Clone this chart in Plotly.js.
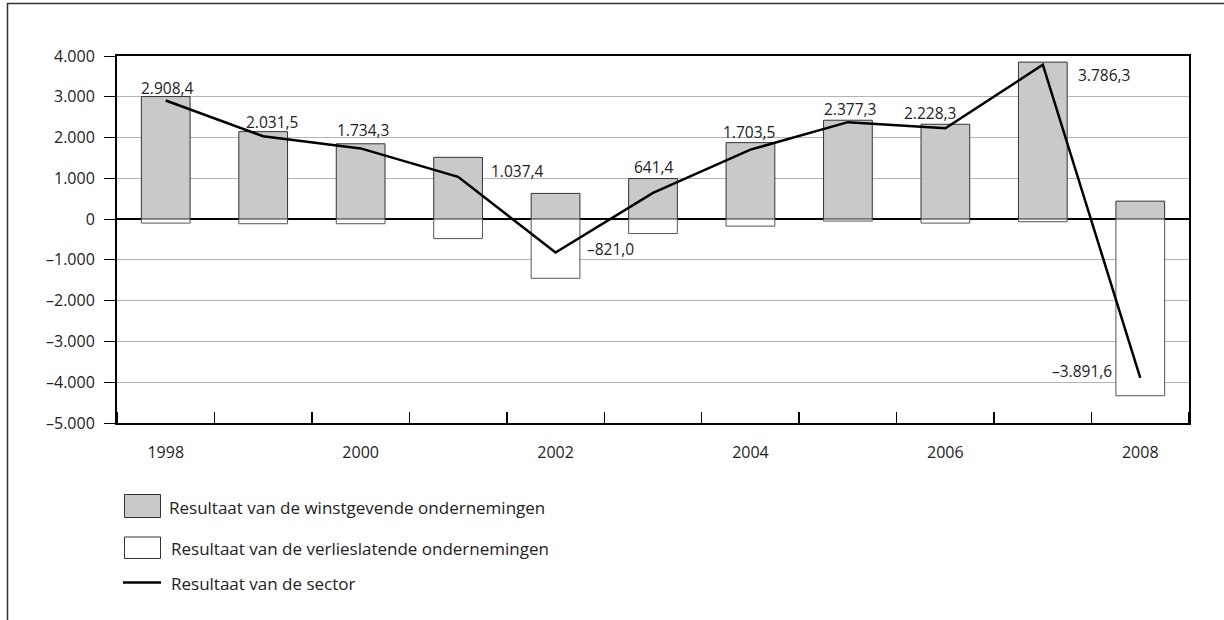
<!DOCTYPE html>
<html>
<head>
<meta charset="utf-8">
<script src="https://cdn.plot.ly/plotly-3.0.1.min.js"></script>
<style>
  html, body { margin: 0; padding: 0; background: #fff; }
  #chart { width: 1224px; height: 620px; }
</style>
</head>
<body>
<div id="chart"></div>
<script>
// ---- data ----
const years = [1998, 1999, 2000, 2001, 2002, 2003, 2004, 2005, 2006, 2007, 2008];
const winstgevend = [3005, 2145, 1847, 1515, 630, 995, 1875, 2425, 2326, 3850, 440];
const verlieslatend = [-97, -113, -113, -478, -1451, -354, -171.5, -48, -98, -64, -4332];
const sector = [2908.4, 2031.5, 1734.3, 1037.4, -821.0, 641.4, 1703.5, 2377.3, 2228.3, 3786.3, -3891.6];
const xTickVals = [1998, 2000, 2002, 2004, 2006, 2008];
const yTickVals = [-5000, -4000, -3000, -2000, -1000, 0, 1000, 2000, 3000, 4000];
const legendLabels = [
  'Resultaat van de winstgevende ondernemingen',
  'Resultaat van de verlieslatende ondernemingen',
  'Resultaat van de sector'
];

// ---- style / placement (pixel offsets of value labels from their points) ----
const labelShift = [[2,13],[9,14],[2,18],[59,6],[55,4],[1,26],[-1,18],[2,13],[-15,15],[61,-10],[-58,7]];

const FONT = 'Open Sans, Noto Sans, DejaVu Sans, sans-serif';
const TXT = '#222';
const PL = 117, PR = 1189, PT = 56, PB = 423;
const px = x => (x - PL) / (PR - PL);
const py = y => (PB - y) / (PB - PT);

function fmt(v, dec) {
  const neg = v < 0;
  const s = Math.abs(v).toFixed(dec);
  let [ip, dp] = s.split('.');
  ip = ip.replace(/\B(?=(\d{3})+(?!\d))/g, '.');
  return (neg ? '\u2013' : '') + ip + (dp ? ',' + dp : '');
}

const traces = [
  {
    type: 'bar', x: years, y: winstgevend, name: legendLabels[0],
    marker: { color: '#c8c9cb', line: { color: '#333', width: 1 } },
    hoverinfo: 'x+y'
  },
  {
    type: 'bar', x: years, y: verlieslatend, name: legendLabels[1],
    marker: { color: '#ffffff', line: { color: '#555', width: 1 } },
    hoverinfo: 'x+y'
  },
  {
    type: 'scatter', mode: 'lines', x: years, y: sector, name: legendLabels[2],
    line: { color: '#000', width: 2.5 }, hoverinfo: 'x+y'
  }
];

const annotations = years.map((yr, i) => ({
  x: yr, y: sector[i], xref: 'x', yref: 'y',
  text: fmt(sector[i], 1), showarrow: false,
  xanchor: 'center', yanchor: 'middle',
  xshift: labelShift[i][0], yshift: labelShift[i][1],
  font: { family: FONT, size: 15.5, color: TXT }
}));

// legend texts
const legTextPos = [[167, 507], [169, 548], [169, 583]];
legendLabels.forEach((t, i) => {
  annotations.push({
    x: px(legTextPos[i][0]), y: py(legTextPos[i][1]), xref: 'paper', yref: 'paper',
    text: t, showarrow: false, xanchor: 'left', yanchor: 'middle',
    font: { family: FONT, size: 17, color: TXT }
  });
});

const shapes = [
  // outer frame (top + left)
  { type: 'line', xref: 'paper', yref: 'paper', x0: px(7), x1: px(1230), y0: py(3.5), y1: py(3.5), line: { color: '#333', width: 1.5 } },
  { type: 'line', xref: 'paper', yref: 'paper', x0: px(7.5), x1: px(7.5), y0: py(3), y1: py(625), line: { color: '#333', width: 1.5 } },
  // legend swatches
  { type: 'rect', xref: 'paper', yref: 'paper', x0: px(124.5), x1: px(160.5), y0: py(494.5), y1: py(517.5), fillcolor: '#c8c9cb', line: { color: '#333', width: 1 } },
  { type: 'rect', xref: 'paper', yref: 'paper', x0: px(124.5), x1: px(160.5), y0: py(537), y1: py(558.5), fillcolor: '#ffffff', line: { color: '#333', width: 1 } },
  { type: 'line', xref: 'paper', yref: 'paper', x0: px(123), x1: px(161), y0: py(582.5), y1: py(582.5), line: { color: '#000', width: 2.5 } }
];

const layout = {
  width: 1224, height: 620,
  margin: { l: PL, r: 1224 - PR, t: PT, b: 620 - PB, pad: 0 },
  paper_bgcolor: '#fff', plot_bgcolor: '#fff',
  font: { family: FONT, size: 15, color: TXT },
  separators: ',.',
  barmode: 'relative', bargap: 0.5,
  showlegend: false,
  xaxis: {
    type: 'linear', range: [1997.5, 2008.5],
    tickvals: xTickVals, ticktext: xTickVals.map(String),
    ticks: '', showgrid: false, zeroline: false,
    showline: true, linecolor: '#000', linewidth: 2, mirror: true,
    ticklabelstandoff: 14,
    tickfont: { family: FONT, size: 16, color: TXT },
    minor: { tick0: 1997.5, dtick: 1, ticks: 'inside', ticklen: 11, tickwidth: 1.5, tickcolor: '#000', showgrid: false }
  },
  yaxis: {
    range: [-5000, 4000],
    tickvals: yTickVals, ticktext: yTickVals.map(v => fmt(v, 0)),
    ticks: 'outside', ticklen: 11, tickwidth: 1, tickcolor: '#000',
    showgrid: true, gridcolor: '#b4b4b4', gridwidth: 1,
    zeroline: true, zerolinecolor: '#000', zerolinewidth: 1.5,
    showline: true, linecolor: '#000', linewidth: 2, mirror: true,
    ticklabelstandoff: 6,
    tickfont: { family: FONT, size: 16, color: TXT }
  },
  annotations: annotations,
  shapes: shapes
};

Plotly.newPlot('chart', traces, layout, { staticPlot: true, displayModeBar: false });
</script>
</body>
</html>
